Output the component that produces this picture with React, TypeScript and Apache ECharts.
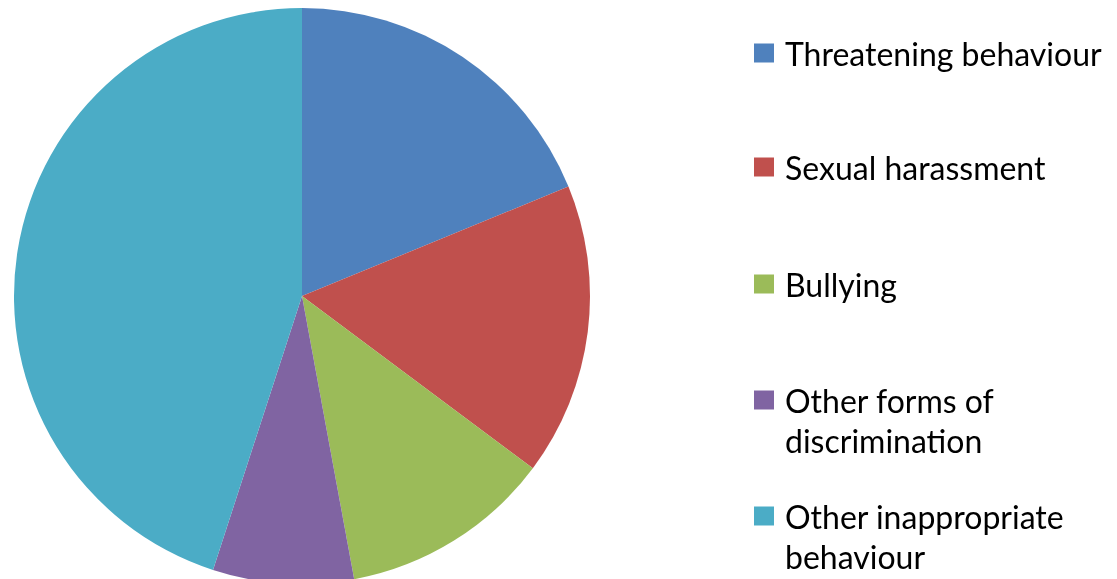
import React, { useEffect, useRef } from "react";
import * as echarts from "echarts";

const categories = [
  "Threatening behaviour",
  "Sexual harassment",
  "Bullying",
  "Other forms of discrimination",
  "Other inappropriate behaviour",
];
const legendLabels = [
  "Threatening behaviour",
  "Sexual harassment",
  "Bullying",
  "\nOther forms of\ndiscrimination",
  "\nOther inappropriate\nbehaviour",
];
const values = [18.8, 16.4, 11.9, 7.9, 45.0];
const colors = ["#4F81BD", "#C0504D", "#9BBB59", "#8064A2", "#4BACC6"];
const legendTops = [33, 147, 264, 340, 456];

export default function App() {
  const ref = useRef<HTMLDivElement>(null);
  useEffect(() => {
    if (!ref.current) return;
    const chart = echarts.init(ref.current, undefined, { renderer: "svg" });
    const legends = categories.map((name, i) => ({
      orient: "vertical",
      left: 754,
      top: legendTops[i],
      itemWidth: 20,
      itemHeight: 19,
      icon: "rect",
      padding: 0,
      data: [name],
      formatter: () => legendLabels[i],
      textStyle: {
        fontFamily: "Lato",
        fontSize: 32,
        lineHeight: 40,
        color: "#000",
        padding: [0, 0, 0, 6],
      },
      selectedMode: false,
    }));
    chart.setOption({
      animation: false,
      color: colors,
      legend: legends,
      series: [
        {
          type: "pie",
          center: [302, 296],
          radius: 288,
          startAngle: 90,
          clockwise: true,
          label: { show: false },
          labelLine: { show: false },
          emphasis: { disabled: true },
          data: categories.map((name, i) => ({ name, value: values[i] })),
        },
      ],
    });
    return () => chart.dispose();
  }, []);
  return (
    <div
      ref={ref}
      style={{ position: "fixed", left: 0, top: 0, width: 1117, height: 579 }}
    />
  );
}
